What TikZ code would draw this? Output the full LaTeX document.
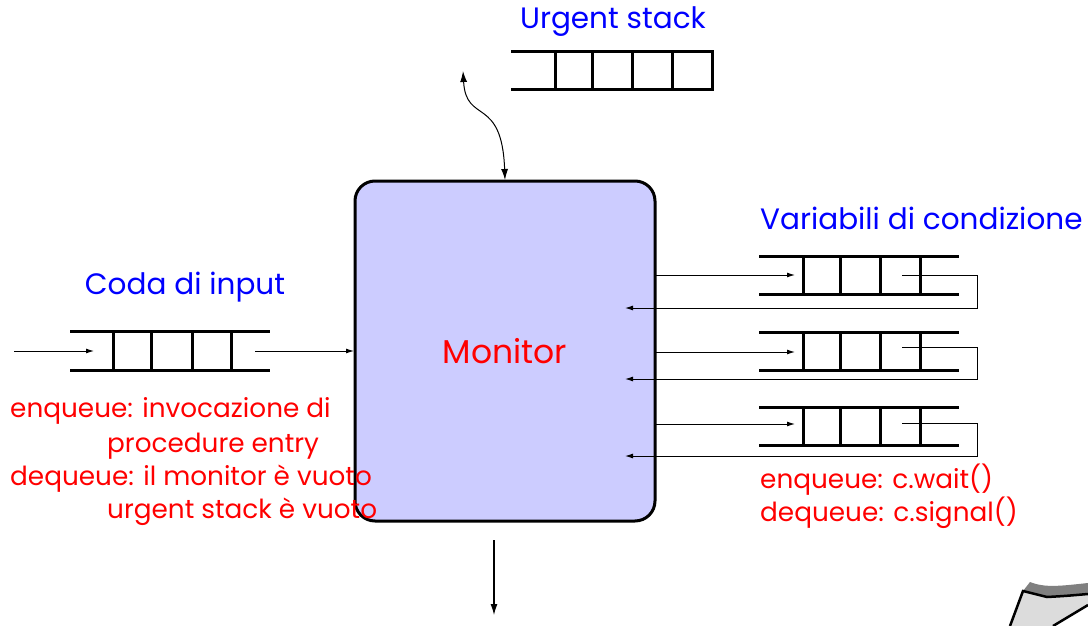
\documentclass[tikz,border=0pt]{standalone}
\usepackage{fontspec}
\setmainfont{Poppins}
\usetikzlibrary{arrows.meta}
\definecolor{monfill}{RGB}{204,204,255}
\definecolor{lgray}{RGB}{220,220,220}
\definecolor{dgray}{RGB}{128,128,128}
\begin{document}
\begin{tikzpicture}[x=1pt,y=-1pt,
  qline/.style={line width=3pt,line join=miter},
  thinl/.style={line width=1pt},
  arr/.style={thinl,-{Latex[length=8pt,width=5pt]}},
  bigarr/.style={line width=1.2pt,-{Latex[length=11pt,width=7pt]}},
  txt/.style={font=\fontsize{26.3}{30}\selectfont,inner sep=0pt,anchor=base west},
  blu/.style={txt,font=\fontsize{29.5}{34}\selectfont,text={rgb,255:red,0;green,0;blue,255}},
  rd/.style={txt,text=red}]
\useasboundingbox (0,0) rectangle (1088,626);

% Monitor
\node[draw,line width=3pt,rounded corners=20pt,fill=monfill,
  minimum width=300pt,minimum height=340pt,inner sep=0pt] (mon) at (505,351) {};
\node[txt,anchor=base,text=red,font=\fontsize{33}{38}\selectfont] (montxt) at (505,363) {Monitor};

% Urgent stack
\node[blu,anchor=base] (ulbl) at (613,29) {Urgent stack};
\draw[qline] (511,52) -- (712,52) -- (712,90) -- (511,90);
\foreach \x in {555,592,632,672} \draw[qline] (\x,52) -- (\x,90);
\coordinate (utop) at (463,71);
\coordinate (mtop) at (505,180);
\draw[thinl,{Latex[length=11pt,width=7pt]}-{Latex[length=11pt,width=7pt]}]
  (utop) .. controls (466,125) and (502,95) .. (mtop);

% Input queue
\node[blu,anchor=base] (clbl) at (185,294) {Coda di input};
\draw[qline] (70,331) -- (270,331);
\draw[qline] (70,370) -- (270,370);
\foreach \x in {113,151,192,231} \draw[qline] (\x,331) -- (\x,370);
\coordinate (inL) at (14,351);
\coordinate (inR) at (94,351);
\coordinate (outL) at (255,351);
\coordinate (outR) at (354,351);
\draw[arr] (inL) -- (inR);
\draw[arr] (outL) -- (outR);

\node[rd] (l1) at (10,417) {enqueue: invocazione di};
\node[rd] (l2) at (107,452) {procedure entry};
\node[rd] (l3) at (10,485) {dequeue: il monitor è vuoto};
\node[rd] (l4) at (107,518) {urgent stack è vuoto};

% Condition variables
\node[blu] (vlbl) at (760,229) {Variabili di condizione};
\foreach \t/\i in {256/1,332/2,407/3}{
  \draw[qline] (759,\t) -- (959,\t);
  \draw[qline] (759,\t+38) -- (959,\t+38);
  \foreach \x in {803,840,880,920} \draw[qline] (\x,\t) -- (\x,\t+38);
}
\foreach \a/\b/\c/\i in {275/275/308/1,352/347/379/2,424/423/456/3}{
  \coordinate (ia\i) at (656,\a);
  \coordinate (ib\i) at (795,\a);
  \coordinate (ra\i) at (902,\b);
  \coordinate (rc\i) at (977,\c);
  \coordinate (rd\i) at (625,\c);
  \draw[arr] (ia\i) -- (ib\i);
  \draw[arr] (ra\i) -| (rc\i) -- (rd\i);
}

\node[rd] (r1) at (760,488) {enqueue: c.wait()};
\node[rd] (r2) at (760,521) {dequeue: c.signal()};

% Output arrow
\coordinate (bo1) at (494,540);
\coordinate (bo2) at (494,615);
\draw[bigarr] (bo1) -- (bo2);

% Corner shape (partial)
\fill[dgray] (1030,582) .. controls (1045,588) and (1060,586) .. (1088,583)
  -- (1088,596) -- (1047,597) -- (1023,591) -- cycle;
\fill[lgray] (1010,626) -- (1023,591) .. controls (1035,594) .. (1047,597)
  .. controls (1065,596) .. (1088,594) -- (1088,605) -- (1053,626) -- cycle;
\draw[line width=2.5pt] (1010,626) -- (1023,591) .. controls (1035,594) .. (1047,597)
  .. controls (1065,596) .. (1088,594);
\draw[line width=2.5pt] (1053,626) -- (1088,605);
\end{tikzpicture}
\end{document}
